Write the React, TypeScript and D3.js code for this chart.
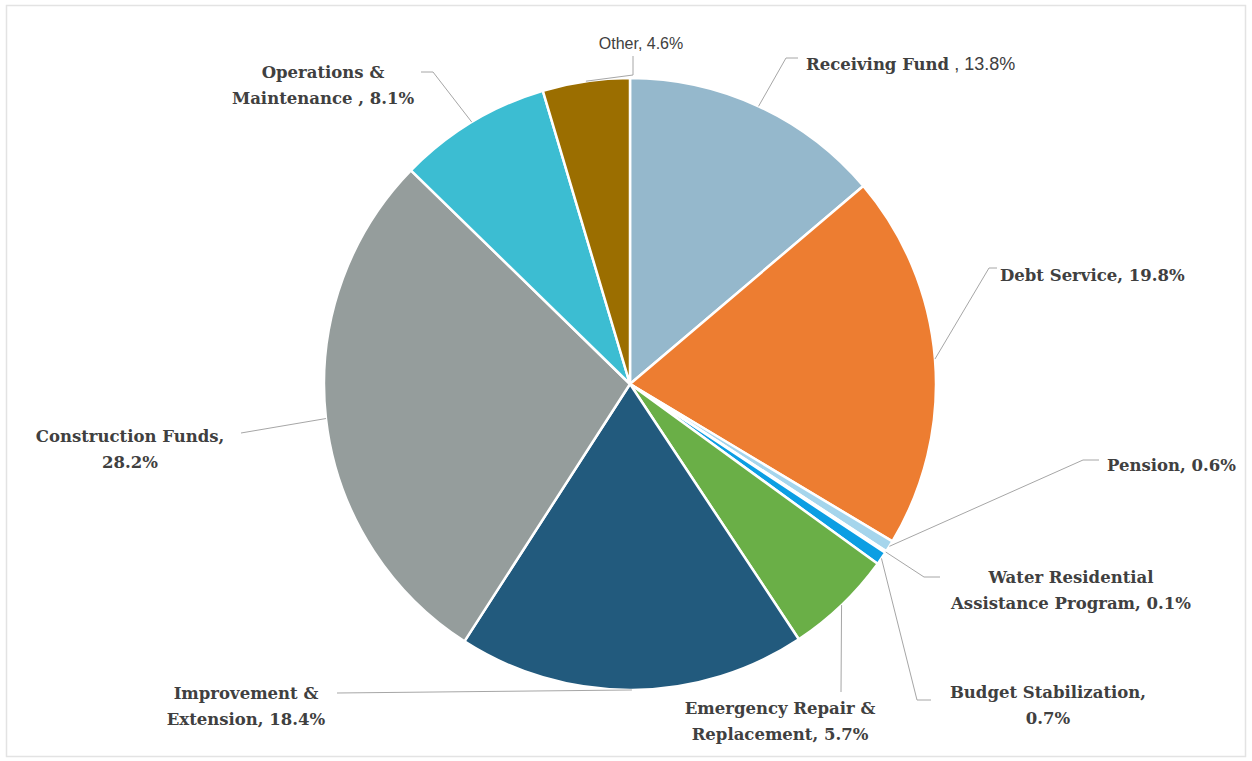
import React from "react";
import * as d3 from "d3";

const categories = [
  "Receiving Fund",
  "Debt Service",
  "Pension",
  "Water Residential Assistance Program",
  "Budget Stabilization",
  "Emergency Repair & Replacement",
  "Improvement & Extension",
  "Construction Funds",
  "Operations & Maintenance",
  "Other",
];
const values = [13.8, 19.8, 0.6, 0.1, 0.7, 5.7, 18.4, 28.2, 8.1, 4.6];
const colors = [
  "#95b8cc",
  "#ed7d31",
  "#a5d5ec",
  "#2e75b6",
  "#0c9ee3",
  "#6aaf47",
  "#225a7d",
  "#959d9c",
  "#3cbdd2",
  "#9b6e00",
];

type Seg = { t: string; sans?: boolean; size?: number };
type LabelCfg = {
  lines: Seg[][];
  x: number;
  y: number; // first baseline
  anchor: "start" | "middle" | "end";
  leader: [number, number][]; // bend points after the arc point
};

const W = 1252;
const H = 761;
const cx = 630;
const cy = 384;
const R = 306;
const LH = 26;

const fmt = (v: number) => `${v.toFixed(1)}%`;

const labelCfg: LabelCfg[] = [
  {
    lines: [[{ t: "Receiving Fund" }, { t: ` , ${fmt(values[0])}`, sans: true, size: 18 }]],
    x: 806, y: 70, anchor: "start",
    leader: [[786, 58], [798, 58]],
  },
  {
    lines: [[{ t: `Debt Service, ${fmt(values[1])}` }]],
    x: 1000, y: 281, anchor: "start",
    leader: [[989, 268], [997, 268]],
  },
  {
    lines: [[{ t: `Pension, ${fmt(values[2])}` }]],
    x: 1107, y: 471, anchor: "start",
    leader: [[1083, 460], [1099, 460]],
  },
  {
    lines: [[{ t: "Water Residential" }], [{ t: `Assistance Program, ${fmt(values[3])}` }]],
    x: 1071, y: 583, anchor: "middle",
    leader: [[924, 577], [940, 577]],
  },
  {
    lines: [[{ t: "Budget Stabilization," }], [{ t: fmt(values[4]) }]],
    x: 1048, y: 698, anchor: "middle",
    leader: [[917, 700], [931, 700]],
  },
  {
    lines: [[{ t: "Emergency Repair &" }], [{ t: `Replacement, ${fmt(values[5])}` }]],
    x: 780, y: 714, anchor: "middle",
    leader: [[841, 692]],
  },
  {
    lines: [[{ t: "Improvement &" }], [{ t: `Extension, ${fmt(values[6])}` }]],
    x: 246, y: 699, anchor: "middle",
    leader: [[337, 693]],
  },
  {
    lines: [[{ t: "Construction Funds," }], [{ t: fmt(values[7]) }]],
    x: 130, y: 442, anchor: "middle",
    leader: [[241, 433]],
  },
  {
    lines: [[{ t: "Operations &" }], [{ t: `Maintenance , ${fmt(values[8])}` }]],
    x: 323, y: 78, anchor: "middle",
    leader: [[433, 72], [421, 72]],
  },
  {
    lines: [[{ t: `Other, ${fmt(values[9])}`, sans: true, size: 16 }]],
    x: 641, y: 49, anchor: "middle",
    leader: [[633, 75], [633, 56]],
  },
];

export default function App() {
  const pie = d3
    .pie<number>()
    .sort(null)
    .startAngle(0)
    .endAngle(2 * Math.PI)
    .value((d) => d);
  const arcs = pie(values);
  const arc = d3.arc<d3.PieArcDatum<number>>().innerRadius(0).outerRadius(R);
  const edgeArc = d3.arc<d3.PieArcDatum<number>>().innerRadius(R).outerRadius(R);
  const line = d3.line();

  return (
    <svg
      width={W}
      height={H}
      style={{ position: "fixed", left: 0, top: 0, background: "#fff" }}
    >
      <rect x={6.5} y={5.5} width={1239} height={751} fill="#fff" stroke="#e3e3e3" strokeWidth={1.5} />
      <g transform={`translate(${cx},${cy})`}>
        {arcs.map((a, i) => (
          <path key={i} d={arc(a) || ""} fill={colors[i]} stroke="#fff" strokeWidth={2.5} strokeLinejoin="round" />
        ))}
      </g>
      {arcs.map((a, i) => {
        const [px, py] = edgeArc.centroid(a);
        const pts: [number, number][] = [[cx + px, cy + py], ...labelCfg[i].leader];
        return (
          <path key={`l${i}`} d={line(pts) || ""} fill="none" stroke="#a6a6a6" strokeWidth={1} />
        );
      })}
      {labelCfg.map((c, i) => (
        <text
          key={`t${i}`}
          textAnchor={c.anchor}
          fill="#404040"
          fontFamily="'DejaVu Serif', serif"
          fontWeight="bold"
          fontSize={16.5}
        >
          {c.lines.map((ln, j) => (
            <tspan key={j} x={c.x} y={c.y + j * LH}>
              {ln.map((s, k) =>
                s.sans ? (
                  <tspan key={k} fontFamily="'Liberation Sans', Arial, sans-serif" fontWeight="normal" fontSize={s.size || 16}>
                    {s.t}
                  </tspan>
                ) : (
                  <tspan key={k}>{s.t}</tspan>
                )
              )}
            </tspan>
          ))}
        </text>
      ))}
    </svg>
  );
}
